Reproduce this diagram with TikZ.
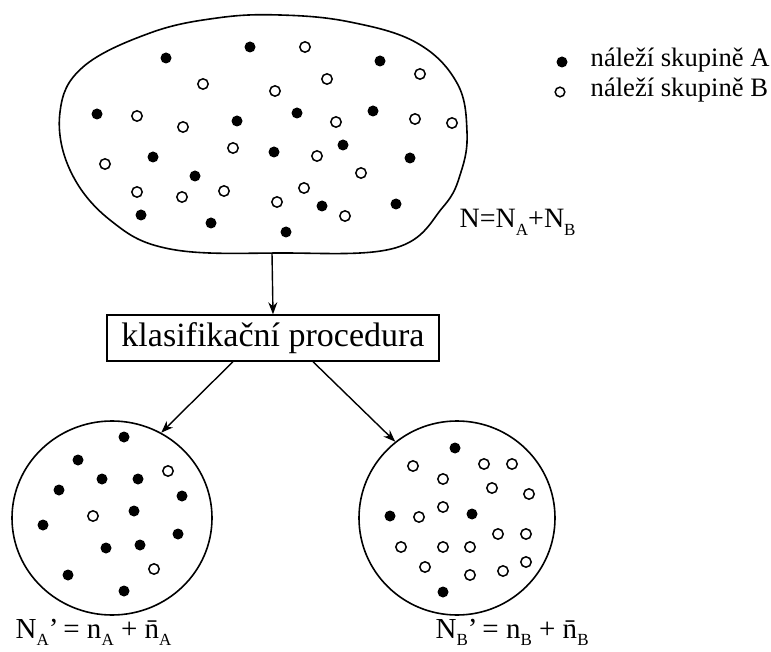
\documentclass[tikz,border=0pt]{standalone}
\usepackage{fontspec}
\setmainfont{Liberation Serif}
\usetikzlibrary{arrows.meta,shapes.geometric}
\newcommand{\lsub}[1]{\raisebox{-0.55ex}{\fontsize{8.5}{9}\selectfont #1}}
\begin{document}
\begin{tikzpicture}[x=0.5pt, y=-0.5pt, line width=0.7pt,
  setline/.style={line width=0.8pt},
  arr/.style={-{Stealth[length=6pt, width=4.5pt]}, line width=0.7pt},
  subset/.style={draw, setline, ellipse, inner sep=0pt},
  label/.style={anchor=base west, inner sep=0pt},
  dotA/.style={fill=black},
  dotB/.style={draw=black, line width=0.75pt}]
\useasboundingbox (0,0) rectangle (771,652);

% Population (whole set)
\draw[setline] plot[smooth cycle, tension=0.65] coordinates {
  (280,15) (350,22) (417,43) (457,83) (467,132) (461,172) (443,207)
  (395,248) (280,253) (170,249) (110,220) (70,170) (60,112) (83,67)
  (150,33) (217,18)};
\coordinate (popout) at (272,253);

% Dots of group A (filled) and group B (open)
\foreach \x/\y in {250/47, 166/58, 380/61, 97/114, 237/121, 297/113,
  373/111, 153/157, 274/152, 343/145, 410/158, 195/176, 141/215,
  211/223, 286/232, 322/206, 396/204}
  \fill[dotA] (\x,\y) circle (2.75pt);
\foreach \x/\y in {305/47, 203/84, 327/79, 420/74, 275/91, 137/116,
  183/127, 336/122, 415/119, 452/123, 233/148, 317/156, 105/164,
  361/173, 137/192, 182/197, 224/191, 304/188, 277/202, 345/216}
  \draw[dotB] (\x,\y) circle (2.6pt);

% Legend
\fill[dotA] (562,62) circle (2.75pt);
\node[label, font=\fontsize{13.3}{15}\selectfont] (legA) at (590,67) {náleží skupině A};
\draw[dotB] (560,92) circle (2.4pt);
\node[label, font=\fontsize{13.3}{15}\selectfont] (legB) at (590,97) {náleží skupině B};

\node[label, font=\fontsize{14}{16}\selectfont] (total) at (459,228)
  {N=N\lsub{A}+N\lsub{B}};

% Classification
\node[draw, line width=0.7pt, minimum width=166pt, minimum height=23pt, inner sep=0pt,
  font=\fontsize{17}{20}\selectfont] (proc) at (273,338) {klasifikační procedura};

% Resulting subsets
\node[subset, minimum width=100pt, minimum height=97pt] (setA) at (112,518) {};
\node[subset, minimum width=98pt, minimum height=97pt] (setB) at (457,518) {};

\foreach \x/\y in {124/437, 78/460, 102/479, 138/479, 59/490, 182/496,
  134/511, 43/525, 178/534, 106/548, 140/545, 68/575, 124/591}
  \fill[dotA] (\x,\y) circle (2.75pt);
\foreach \x/\y in {168/471, 93/516, 154/569}
  \draw[dotB] (\x,\y) circle (2.6pt);

\foreach \x/\y in {455/448, 390/516, 472/514, 443/592}
  \fill[dotA] (\x,\y) circle (2.75pt);
\foreach \x/\y in {413/466, 484/464, 512/464, 443/479, 492/488, 529/494,
  443/507, 419/517, 498/534, 526/534, 401/547, 443/547, 470/547,
  425/567, 470/575, 503/571, 526/562}
  \draw[dotB] (\x,\y) circle (2.6pt);

\node[label, font=\fontsize{14.5}{16}\selectfont] (formA) at (15,638)
  {N\lsub{A}’\,= n\lsub{A} + \={n}\lsub{A}};
\node[label, font=\fontsize{14.5}{16}\selectfont] (formB) at (435,638)
  {N\lsub{B}’\,= n\lsub{B} + \={n}\lsub{B}};

% Connectors
\draw[arr] (popout) -- (proc.north);
\draw[arr] ([xshift=-20pt]proc.south) -- (setA.60);
\draw[arr] ([xshift=20pt]proc.south) -- (setB.129);
\end{tikzpicture}
\end{document}
